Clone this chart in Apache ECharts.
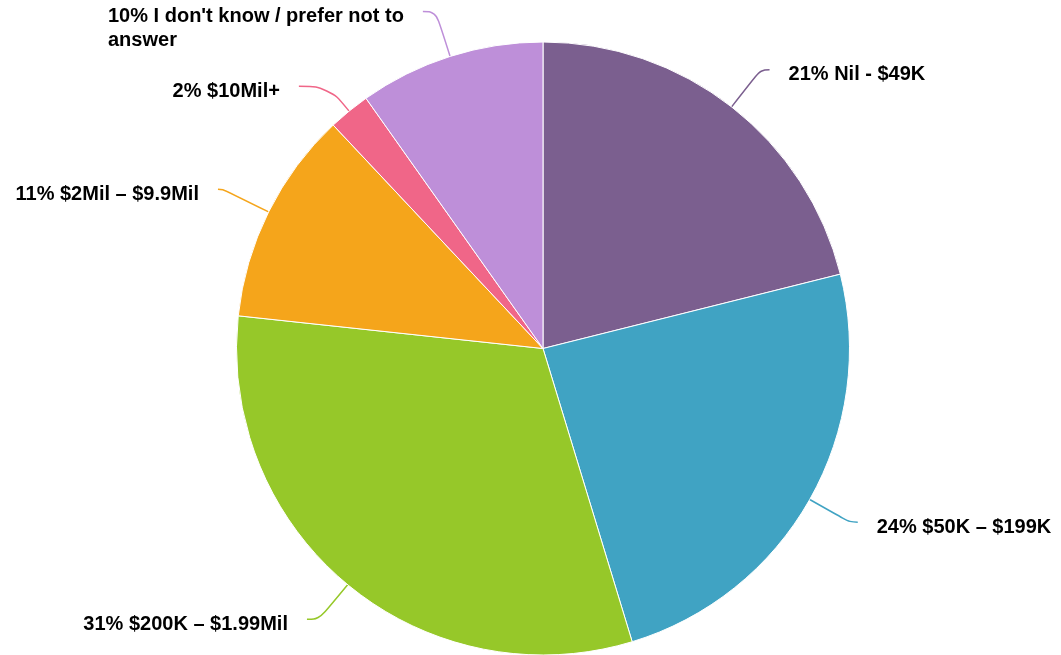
<!DOCTYPE html>
<html>
<head>
<meta charset="utf-8">
<script src="https://cdn.jsdelivr.net/npm/echarts@6/dist/echarts.min.js"></script>
<style>
html,body{margin:0;padding:0;background:#fff;}
#chart{width:1061px;height:655px;}
</style>
</head>
<body>
<div id="chart"></div>
<script>
var categories = ["Nil - $49K", "$50K \u2013 $199K", "$200K \u2013 $1.99Mil", "$2Mil \u2013 $9.9Mil", "$10Mil+", "I don't know / prefer not to\nanswer"];
var values = [21.1, 24.2, 31.4, 11.3, 2.2, 9.8];
var percentLabels = ["21%", "24%", "31%", "11%", "2%", "10%"];
var colors = ["#7B5F8F", "#40A3C3", "#96C829", "#F5A51B", "#F06688", "#BE8FD9"];
var lineLengths = [[47, 9], [46, 8], [45, 12], [51, 5], [32, 30], [47, 13]];

var chart = echarts.init(document.getElementById('chart'));
var data = categories.map(function (c, i) {
  return {
    name: c,
    value: values[i],
    itemStyle: { color: colors[i] },
    labelLine: { length: lineLengths[i][0], length2: lineLengths[i][1] }
  };
});
chart.setOption({
  animation: false,
  series: [{
    type: 'pie',
    center: [543, 348.5],
    radius: [0, 306.5],
    startAngle: 90,
    clockwise: true,
    avoidLabelOverlap: false,
    itemStyle: { borderColor: '#ffffff', borderWidth: 1 },
    label: {
      show: true,
      position: 'outside',
      alignTo: 'none',
      distanceToLabelLine: 19,
      fontFamily: 'Liberation Sans, Arial, sans-serif',
      fontWeight: 'bold',
      fontSize: 20,
      lineHeight: 24,
      color: '#000',
      formatter: function (p) { return percentLabels[p.dataIndex] + ' ' + p.name; }
    },
    labelLayout: function (p) {
      var multi = p.text.indexOf('\n') >= 0;
      if (multi) {
        return { align: 'left', dx: -p.labelRect.width, dy: p.labelRect.height / 2 - 12 + 5 };
      }
      return { dy: 5 };
    },
    labelLine: { show: true, smooth: 0.4, lineStyle: { width: 1.5 } },
    emphasis: { disabled: true },
    data: data
  }]
});
</script>
</body>
</html>
